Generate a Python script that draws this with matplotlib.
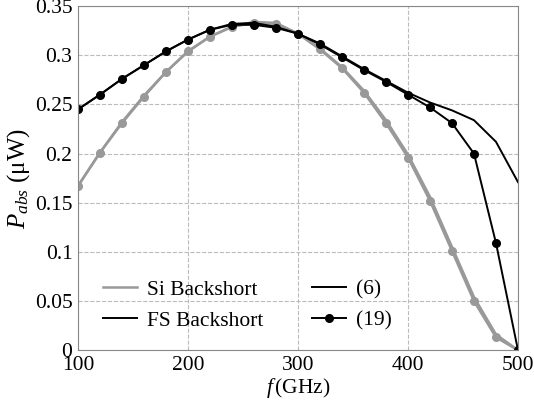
import numpy as np
import matplotlib
matplotlib.use("Agg")
import matplotlib.pyplot as plt
from matplotlib.lines import Line2D

### DATA ######################################################################

freq = [100, 120, 140, 160, 180, 200, 220, 240, 260, 280, 300,
        320, 340, 360, 380, 400, 420, 440, 460, 480, 500]

# Si backshort (grey)
si_6 = [0.167, 0.201, 0.232, 0.259, 0.283, 0.304, 0.319, 0.329, 0.334, 0.333, 0.322,
        0.307, 0.288, 0.264, 0.234, 0.199, 0.156, 0.105, 0.054, 0.016, 0.0]
si_19 = [0.167, 0.201, 0.231, 0.258, 0.283, 0.304, 0.319, 0.329, 0.333, 0.332, 0.322,
         0.306, 0.287, 0.262, 0.231, 0.196, 0.152, 0.101, 0.050, 0.013, 0.0]

# FS backshort (black)
fs_6 = [0.245, 0.260, 0.276, 0.290, 0.304, 0.316, 0.326, 0.332, 0.333, 0.329, 0.322,
        0.312, 0.299, 0.286, 0.274, 0.262, 0.252, 0.244, 0.234, 0.212, 0.171]
fs_19 = [0.245, 0.260, 0.276, 0.290, 0.304, 0.316, 0.326, 0.331, 0.331, 0.328, 0.322,
         0.311, 0.298, 0.285, 0.273, 0.260, 0.247, 0.231, 0.200, 0.109, 0.0]

xticks = [100, 200, 300, 400, 500]
yticks = [0, 0.05, 0.1, 0.15, 0.2, 0.25, 0.3, 0.35]
ytick_labels = ["0", "0.05", "0.1", "0.15", "0.2", "0.25", "0.3", "0.35"]

### PLOT ######################################################################

plt.rcParams['font.family'] = ['Liberation Serif', 'DejaVu Serif']
plt.rcParams['mathtext.fontset'] = 'custom'
plt.rcParams['mathtext.it'] = 'Liberation Serif:italic'
plt.rcParams['mathtext.rm'] = 'Liberation Serif'

fig = plt.figure(figsize=(5.34, 4.11), dpi=100)
ax = fig.add_axes([0.146, 0.148, 0.824, 0.837])

grey = '#999999'
ax.plot(freq, si_6, color=grey, lw=1.8)
ax.plot(freq, si_19, color=grey, lw=1.8, marker='o', ms=5.5)
ax.plot(freq, fs_6, color='black', lw=1.4)
ax.plot(freq, fs_19, color='black', lw=1.4, marker='o', ms=5.5)

ax.set_xlim(100, 500)
ax.set_ylim(0, 0.35)
ax.set_xticks(xticks)
ax.set_yticks(yticks)
ax.set_yticklabels(ytick_labels)
ax.tick_params(labelsize=15.5, length=0, pad=4)
ax.grid(True, color='#bbbbbb', ls='--', lw=0.8)
for s in ax.spines.values():
    s.set_color('#888888')

ax.set_xlabel(r'$f\,$(GHz)', fontsize=15.5, labelpad=1)
ax.set_ylabel(r'$P_{abs}$ ($\mathrm{\mu}$W)', fontsize=18, labelpad=2)

# two legends: material, then model
leg1 = ax.legend(handles=[Line2D([], [], color=grey, lw=1.8),
                          Line2D([], [], color='black', lw=1.4)],
                 labels=['Si Backshort', 'FS Backshort'],
                 loc='lower left', bbox_to_anchor=(0.012, 0.0),
                 frameon=False, fontsize=15.5, handlelength=1.6,
                 handletextpad=0.45, labelspacing=0.5)
ax.add_artist(leg1)
ax.legend(handles=[Line2D([], [], color='black', lw=1.4),
                   Line2D([], [], color='black', lw=1.4, marker='o', ms=5.5)],
          labels=['(6)', '(19)'],
          loc='lower left', bbox_to_anchor=(0.487, 0.0),
          frameon=False, fontsize=15.5, handlelength=1.6,
          handletextpad=0.45, labelspacing=0.5)

fig.savefig('out.png', dpi=100)
